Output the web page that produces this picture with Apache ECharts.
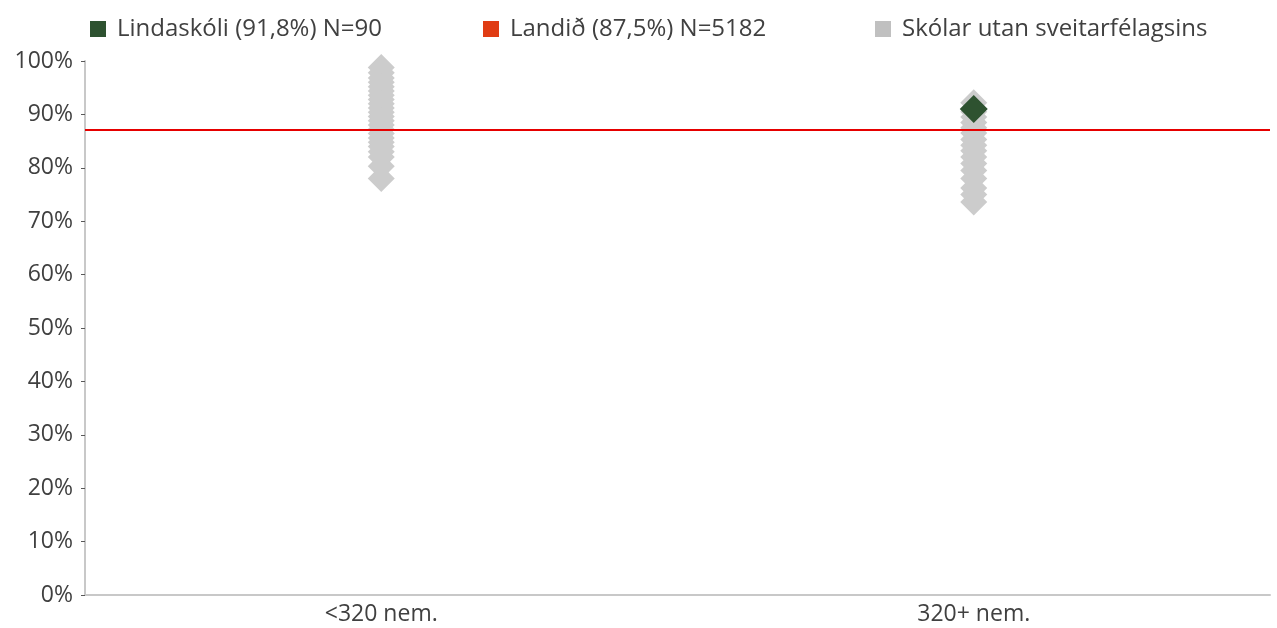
<!DOCTYPE html>
<html><head><meta charset="utf-8">
<script src="https://cdn.jsdelivr.net/npm/echarts@6/dist/echarts.min.js"></script>
<style>html,body{margin:0;padding:0;background:#fff}#c{width:1277px;height:628px}</style>
</head><body><div id="c"></div>
<script>
const categories = ['<320 nem.', '320+ nem.'];
const yTicks = ['0%','10%','20%','30%','40%','50%','60%','70%','80%','90%','100%'];
const otherSmall = [98.8, 97.8, 96.8, 96.0, 95.2, 94.4, 93.6, 92.8, 92.0, 91.2, 90.4, 89.6, 88.8, 88.0, 87.2, 86.4, 85.6, 84.8, 84.0, 83.0, 82.0, 80.3, 78.0];
const otherLarge = [92.2, 90.5, 89.5, 88.5, 87.5, 86.5, 85.3, 84.2, 83.2, 82.0, 80.8, 79.5, 78.0, 76.2, 75.0, 73.6];
const schoolValues = [null, 91.0];
const nationalValue = 87.1;
const legendNames = ['Lindaskóli (91,8%) N=90', 'Landið (87,5%) N=5182', 'Skólar utan sveitarfélagsins'];
const legendColors = ['#2e5230', '#e03c14', '#c0c0c0'];

const otherData = [];
otherSmall.forEach(v => otherData.push([0, v]));
otherLarge.forEach(v => otherData.push([1, v]));
const schoolData = [];
schoolValues.forEach((v, i) => { if (v !== null) schoolData.push([i, v]); });

const FONT = '"Open Sans", "Noto Sans", sans-serif';
const legendLefts = [85, 478, 870];
const legends = legendNames.map((n, i) => ({
  top: 12, left: legendLefts[i], itemWidth: 16, itemHeight: 16, selectedMode: false,
  textStyle: { fontSize: 24, color: '#404040', fontFamily: FONT, padding: [0, 0, 0, 6] },
  data: [{ name: n, icon: 'rect', itemStyle: { color: legendColors[i] } }]
}));

const chart = echarts.init(document.getElementById('c'));
chart.setOption({
  animation: false,
  textStyle: { fontFamily: FONT },
  legend: legends,
  grid: { left: 85, right: 7, top: 61, bottom: 33 },
  xAxis: {
    type: 'category', data: categories, boundaryGap: true,
    axisLine: { lineStyle: { color: '#c8c8c8', width: 2 } },
    axisTick: { show: false },
    axisLabel: { fontSize: 23, color: '#404040', margin: 8, fontFamily: FONT }
  },
  yAxis: {
    type: 'value', min: 0, max: 100, interval: 10,
    axisLine: { show: true, lineStyle: { color: '#c8c8c8', width: 2 } },
    axisTick: { show: true, length: 4, lineStyle: { color: '#595959', width: 1 } },
    splitLine: { show: false },
    axisLabel: { fontSize: 23, color: '#404040', margin: 12, fontFamily: FONT, formatter: v => yTicks[Math.round(v / 10)] }
  },
  series: [
    {
      name: legendNames[2], type: 'scatter', symbol: 'diamond', symbolSize: 27,
      itemStyle: { color: '#cccccc', opacity: 1 }, data: otherData, z: 2
    },
    {
      name: legendNames[1], type: 'line', data: [], itemStyle: { color: '#e03c14' },
      markLine: {
        silent: true, symbol: 'none', label: { show: false },
        lineStyle: { color: '#e60000', width: 2, type: 'solid' },
        data: [{ yAxis: nationalValue }]
      }, z: 3
    },
    {
      name: legendNames[0], type: 'scatter', symbol: 'diamond', symbolSize: 28,
      itemStyle: { color: '#2e5230', opacity: 1 }, data: schoolData, z: 4
    }
  ]
});
</script></body></html>
